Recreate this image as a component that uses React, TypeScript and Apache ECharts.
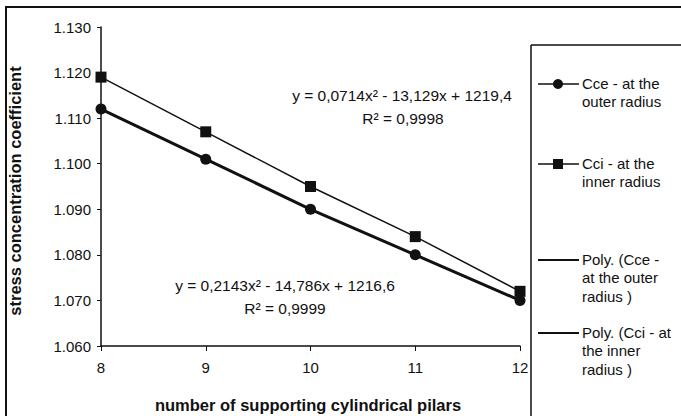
import React, { useEffect, useRef } from "react";
import * as echarts from "echarts";

const pillars = [8, 9, 10, 11, 12];
const cceOuter = [1.112, 1.101, 1.09, 1.08, 1.07];
const cciInner = [1.119, 1.107, 1.095, 1.084, 1.072];
const yTicks = [1.06, 1.07, 1.08, 1.09, 1.1, 1.11, 1.12, 1.13];
const eqInner = ["y = 0,0714x\u00B2 - 13,129x + 1219,4", "R\u00B2 = 0,9998"];
const eqOuter = ["y = 0,2143x\u00B2 - 14,786x + 1216,6", "R\u00B2 = 0,9999"];
const legendLines = [
  ["Cce - at the", "outer radius"],
  ["Cci - at the", "inner radius"],
  ["Poly. (Cce -", "at the outer", "radius )"],
  ["Poly. (Cci - at", "the inner", "radius )"],
];

const FONT = "Liberation Sans, Arial, sans-serif";

export default function App() {
  const ref = useRef<HTMLDivElement>(null);
  useEffect(() => {
    if (!ref.current) return;
    const chart = echarts.init(ref.current, null, { renderer: "svg" });
    const black = "#111";
    const textStyle = { fill: black, fontFamily: FONT, fontSize: 15.5 };
    const legendY = [84, 164, 260, 333];
    const graphics: any[] = [
      // outer frame
      { type: "line", shape: { x1: 5, y1: 7, x2: 681, y2: 7 }, style: { stroke: black, lineWidth: 2 } },
      { type: "line", shape: { x1: 6, y1: 6, x2: 6, y2: 416 }, style: { stroke: black, lineWidth: 2 } },
      // legend box
      { type: "line", shape: { x1: 531, y1: 45, x2: 681, y2: 45 }, style: { stroke: black, lineWidth: 1.5 } },
      { type: "line", shape: { x1: 531, y1: 45, x2: 531, y2: 416 }, style: { stroke: black, lineWidth: 1.5 } },
      // axis titles
      {
        type: "text", x: 15, y: 191, rotation: Math.PI / 2,
        style: { text: "stress concentration coefficient", fill: black, fontFamily: FONT, fontSize: 16.5, fontWeight: "bold", align: "center", verticalAlign: "middle" },
      },
      {
        type: "text", x: 308, y: 405,
        style: { text: "number of supporting cylindrical pilars", fill: black, fontFamily: FONT, fontSize: 16.5, fontWeight: "bold", align: "center", verticalAlign: "middle" },
      },
      // equations
      { type: "text", x: 402, y: 95, style: { ...textStyle, text: eqInner[0], align: "center", verticalAlign: "middle" } },
      { type: "text", x: 403, y: 118, style: { ...textStyle, text: eqInner[1], align: "center", verticalAlign: "middle" } },
      { type: "text", x: 285, y: 285, style: { ...textStyle, text: eqOuter[0], align: "center", verticalAlign: "middle" } },
      { type: "text", x: 285, y: 308, style: { ...textStyle, text: eqOuter[1], align: "center", verticalAlign: "middle" } },
    ];
    legendY.forEach((ly, i) => {
      graphics.push({ type: "line", shape: { x1: 538, y1: ly, x2: 579, y2: ly }, style: { stroke: black, lineWidth: i >= 2 ? 2 : 1.5 } });
      if (i === 0) graphics.push({ type: "circle", shape: { cx: 558, cy: ly, r: 5 }, style: { fill: black } });
      if (i === 1) graphics.push({ type: "rect", shape: { x: 553, y: ly - 5, width: 10, height: 10 }, style: { fill: black } });
      legendLines[i].forEach((t, j) => {
        graphics.push({ type: "text", x: 582, y: ly - 1 + j * 18.5, style: { text: t, fill: black, fontFamily: FONT, fontSize: 15, verticalAlign: "middle" } });
      });
    });

    chart.setOption({
      animation: false,
      backgroundColor: "#fff",
      grid: { left: 101, right: 161, top: 27, bottom: 70, containLabel: false },
      xAxis: {
        type: "value", min: 8, max: 12, interval: 1,
        axisLine: { lineStyle: { color: black, width: 1.5 } },
        axisTick: { show: true, length: 5, lineStyle: { color: black } },
        axisLabel: { color: black, fontFamily: FONT, fontSize: 15, margin: 14 },
        splitLine: { show: false },
      },
      yAxis: {
        type: "value", min: yTicks[0], max: yTicks[yTicks.length - 1], interval: 0.01,
        axisLine: { show: true, lineStyle: { color: black, width: 1.5 } },
        axisTick: { show: true, length: 4, lineStyle: { color: black } },
        axisLabel: { color: black, fontFamily: FONT, fontSize: 15, margin: 10, formatter: (v: number) => v.toFixed(3) },
        splitLine: { show: false },
      },
      series: [
        {
          name: "Cce - at the outer radius", type: "line",
          data: pillars.map((x, i) => [x, cceOuter[i]]),
          symbol: "circle", symbolSize: 11,
          lineStyle: { color: black, width: 3 }, itemStyle: { color: black },
          z: 3,
        },
        {
          name: "Cci - at the inner radius", type: "line",
          data: pillars.map((x, i) => [x, cciInner[i]]),
          symbol: "rect", symbolSize: 11,
          lineStyle: { color: black, width: 1.5 }, itemStyle: { color: black },
          z: 2,
        },
      ],
      graphic: graphics,
    });
    return () => chart.dispose();
  }, []);
  return <div ref={ref} style={{ position: "fixed", left: 0, top: 0, width: 681, height: 416 }} />;
}
